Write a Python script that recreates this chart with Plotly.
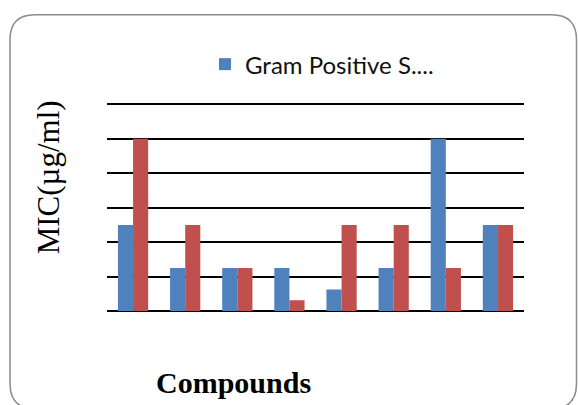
import plotly.graph_objects as go

compounds = ["1", "2", "3", "4", "5", "6", "7", "8"]
gram_positive = [100, 50, 50, 50, 25, 50, 200, 100]
gram_negative = [200, 100, 50, 12.5, 100, 100, 50, 100]

W, H = 578, 405
YMAX = 244
L, R, B = 107, 524, 311
T = B - 207 * YMAX / 240
pw, ph = R - L, B - T


def px(x):
    return (x - L) / pw


def py(y):
    return (B - y) / ph


fig = go.Figure()
fig.add_trace(go.Bar(x=compounds, y=gram_positive, name="Gram Positive S....",
                     marker=dict(color="#4F81BD", line=dict(width=0))))
fig.add_trace(go.Bar(x=compounds, y=gram_negative, name="Gram Negative",
                     marker=dict(color="#C0504D", line=dict(width=0)), showlegend=False))

# rounded border (bottom edge falls just outside the picture, as in the reference)
x0, x1, y0, y1, r = 10, 576.5, 14, 409, 25
path = (f"M {px(x0+r)},{py(y0)} L {px(x1-r)},{py(y0)} Q {px(x1)},{py(y0)} {px(x1)},{py(y0+r)} "
        f"L {px(x1)},{py(y1-r)} Q {px(x1)},{py(y1)} {px(x1-r)},{py(y1)} "
        f"L {px(x0+r)},{py(y1)} Q {px(x0)},{py(y1)} {px(x0)},{py(y1-r)} "
        f"L {px(x0)},{py(y0+r)} Q {px(x0)},{py(y0)} {px(x0+r)},{py(y0)} Z")

fig.update_layout(
    width=W, height=H,
    margin=dict(l=L, r=W - R, t=T, b=H - B),
    paper_bgcolor="white", plot_bgcolor="white",
    barmode="group", bargap=0.42, bargroupgap=0,
    showlegend=True,
    legend=dict(x=px(322), y=py(64), xanchor="center", yanchor="middle",
                orientation="h", font=dict(family="Lato", size=24, color="#111"),
                bgcolor="rgba(0,0,0,0)"),
    xaxis=dict(range=[-0.5, 7.5], showticklabels=False, showgrid=False,
               ticks="", showline=False, zeroline=False),
    yaxis=dict(range=[0, YMAX], tickvals=[40, 80, 120, 160, 200, 240], showticklabels=False, ticks="",
               showgrid=True, gridcolor="black", gridwidth=2,
               zeroline=True, zerolinecolor="black", zerolinewidth=2, showline=False),
    shapes=[dict(type="path", path=path, xref="paper", yref="paper",
                 line=dict(color="#8c8c8c", width=1.5), layer="below")],
    annotations=[
        dict(text="MIC(µg/ml)", x=px(48), y=py(177), xref="paper", yref="paper",
             textangle=-90, showarrow=False, xanchor="center", yanchor="middle",
             font=dict(family="Liberation Serif", size=31, color="black")),
        dict(text="<b>Compounds</b>", x=px(233), y=py(383), xref="paper", yref="paper",
             showarrow=False, xanchor="center", yanchor="middle",
             font=dict(family="Liberation Serif", size=30, color="black")),
    ],
)

fig.write_html("out.html", config={"displayModeBar": False})
with open("out.html", "r", encoding="utf-8") as f:
    html = f.read()
html = html.replace("<head>", "<head><style>html,body{margin:0;padding:0;overflow:hidden;}</style>", 1)
with open("out.html", "w", encoding="utf-8") as f:
    f.write(html)
